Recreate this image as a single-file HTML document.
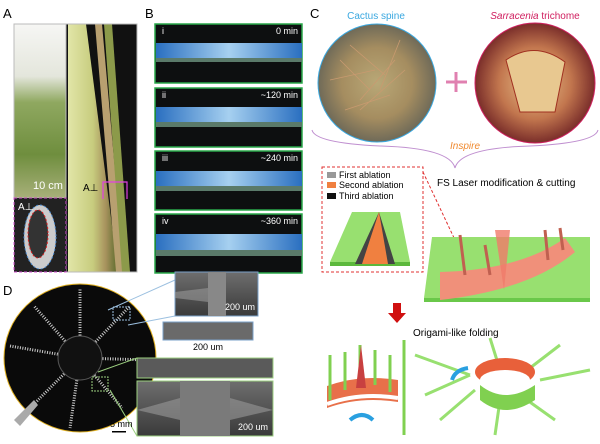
<!DOCTYPE html>
<html><head><meta charset="utf-8"><style>
body{margin:0;background:#fff;font-family:"Liberation Sans",Arial,sans-serif}
svg text{font-family:"Liberation Sans",Arial,sans-serif}
</style></head><body>
<svg width="600" height="439" viewBox="0 0 600 439" xmlns="http://www.w3.org/2000/svg">
<defs>
<linearGradient id="grass" x1="0" y1="0" x2="0" y2="1"><stop offset="0" stop-color="#f6f6f4"/><stop offset="0.3" stop-color="#e4e6dc"/><stop offset="0.45" stop-color="#8fa860"/><stop offset="0.75" stop-color="#6f8e3e"/><stop offset="1" stop-color="#a8b07a"/></linearGradient>
<linearGradient id="leaf" x1="0" y1="0" x2="1" y2="0"><stop offset="0" stop-color="#e2e6a8"/><stop offset="0.5" stop-color="#c7cc7e"/><stop offset="0.75" stop-color="#a8935e"/><stop offset="1" stop-color="#5a6a2a"/></linearGradient>
<linearGradient id="tube" x1="0" y1="0" x2="1" y2="0"><stop offset="0" stop-color="#2a6fc0"/><stop offset="0.5" stop-color="#a6d0f0"/><stop offset="1" stop-color="#2a6fc0"/></linearGradient>
<radialGradient id="cactus"><stop offset="0" stop-color="#b9a877"/><stop offset="0.6" stop-color="#a58d60"/><stop offset="1" stop-color="#6f6a58"/></radialGradient>
<radialGradient id="sarr"><stop offset="0" stop-color="#e8c48c"/><stop offset="0.6" stop-color="#c2764e"/><stop offset="1" stop-color="#7a2e2a"/></radialGradient>
<linearGradient id="sem" x1="0" y1="0" x2="0" y2="1"><stop offset="0" stop-color="#6e6e6e"/><stop offset="1" stop-color="#3a3a3a"/></linearGradient>
</defs>
<!-- A -->
<text x="3" y="18" font-size="13">A</text>
<rect x="14" y="24" width="52" height="174" fill="url(#grass)" stroke="#bbb"/>
<rect x="66" y="24" width="71" height="248" fill="#111"/>
<polygon points="68,24 68,272 118,272 86,24" fill="url(#leaf)"/>
<polygon points="95,24 102,24 124,272 116,272" fill="#b8a070"/>
<polygon points="104,24 112,24 130,272 122,272" fill="#8c9a4a"/>
<rect x="66" y="24" width="71" height="248" fill="none" stroke="#bbb"/>
<text x="33" y="189" font-size="11" fill="#fff">10 cm</text>
<rect x="14" y="198" width="52" height="74" fill="#222" stroke="#d050d0" stroke-dasharray="3,2"/>
<ellipse cx="40" cy="237" rx="16" ry="32" fill="#ccc" stroke="#4a8ad0" stroke-dasharray="2,2"/>
<ellipse cx="38" cy="234" rx="10" ry="24" fill="#333" stroke="#e02020" stroke-dasharray="2,2"/>
<text x="18" y="210" font-size="10" fill="#fff">A⊥</text>
<text x="83" y="191" font-size="10">A⊥</text>
<path d="M103,199 V182 H127 V199" fill="none" stroke="#e040e0" stroke-width="1.2"/>
<!-- B -->
<text x="145" y="18" font-size="13">B</text>
<g font-size="9" fill="#fff">
<g><rect x="155" y="24" width="147" height="59" fill="#0d0f10" stroke="#2aa84a" stroke-width="1.5"/><rect x="156" y="43" width="146" height="18" fill="url(#tube)"/><rect x="156" y="58" width="146" height="4" fill="#5a7a6a"/><text x="162" y="34">i</text><text x="298" y="34" text-anchor="end">0 min</text></g>
<g><rect x="155" y="88" width="147" height="59" fill="#0d0f10" stroke="#2aa84a" stroke-width="1.5"/><rect x="156" y="107" width="146" height="18" fill="url(#tube)"/><rect x="156" y="122" width="146" height="5" fill="#5a7a6a"/><text x="162" y="98">ii</text><text x="298" y="98" text-anchor="end">~120 min</text></g>
<g><rect x="155" y="151" width="147" height="59" fill="#0d0f10" stroke="#2aa84a" stroke-width="1.5"/><rect x="156" y="171" width="146" height="18" fill="url(#tube)"/><rect x="156" y="186" width="146" height="5" fill="#5a7a6a"/><text x="162" y="161">iii</text><text x="298" y="161" text-anchor="end">~240 min</text></g>
<g><rect x="155" y="214" width="147" height="59" fill="#0d0f10" stroke="#2aa84a" stroke-width="1.5"/><rect x="156" y="234" width="146" height="19" fill="url(#tube)"/><rect x="156" y="250" width="146" height="6" fill="#5a7a6a"/><text x="162" y="224">iv</text><text x="298" y="224" text-anchor="end">~360 min</text></g>
</g>
<!-- C -->
<text x="310" y="18" font-size="13">C</text>
<text x="376" y="19" font-size="10" fill="#3aa8e0" text-anchor="middle">Cactus spine</text>
<text x="535" y="19" font-size="10" fill="#d02060" text-anchor="middle"><tspan font-style="italic">Sarracenia</tspan> trichome</text>
<circle cx="377" cy="83" r="59" fill="url(#cactus)" stroke="#3aa8e0" stroke-width="1"/>
<g stroke="#c89a70" stroke-width="0.8">
<path d="M340,60 L370,90 M350,45 L385,75 M360,100 L395,60 M330,80 L375,70 M400,40 L380,90 M405,70 L360,110 M345,110 L390,95"/>
</g>
<circle cx="535" cy="83" r="60" fill="url(#sarr)" stroke="#d02060" stroke-width="1"/>
<path d="M506,60 Q535,40 565,62 L555,112 L520,112 Z" fill="#e8c890" stroke="#a03020"/>
<path d="M446,82 H467 M456,72 V92" stroke="#e080b0" stroke-width="3"/>
<path d="M312,130 Q315,143 380,146 Q450,148 455,168 Q460,148 530,146 Q595,143 598,130" fill="none" stroke="#c090d0" stroke-width="1"/>
<text x="465" y="149" font-size="10" fill="#f08a30" font-style="italic" text-anchor="middle">Inspire</text>
<text x="437" y="186" font-size="10">FS Laser modification &amp; cutting</text>
<rect x="322" y="167" width="101" height="105" fill="none" stroke="#e03030" stroke-dasharray="3,2"/>
<rect x="327" y="172" width="9" height="6" fill="#999"/><text x="339" y="178" font-size="9">First ablation</text>
<rect x="327" y="182" width="9" height="6" fill="#f08040"/><text x="339" y="188" font-size="9">Second ablation</text>
<rect x="327" y="193" width="9" height="6" fill="#111"/><text x="339" y="199" font-size="9">Third ablation</text>
<polygon points="330,262 352,212 400,212 410,262" fill="#98e070"/>
<rect x="330" y="262" width="80" height="4" fill="#5cb83c"/>
<polygon points="355,264 379,212 395,264" fill="#444"/>
<polygon points="362,264 379,212 388,264" fill="#f08040"/>
<line x1="423" y1="172" x2="455" y2="240" stroke="#e03030" stroke-dasharray="3,2"/>
<polygon points="432,237 590,237 590,298 424,298" fill="#98e070"/>
<rect x="424" y="298" width="166" height="4" fill="#6ac84a"/>
<path d="M440,272 Q520,270 565,238 L575,252 Q530,290 440,300 Z" fill="#f0907a"/>
<polygon points="495,230 510,230 504,290" fill="#f07a6a" opacity="0.8"/>
<path d="M460,235 L465,275 M485,245 L490,275 M545,230 L548,260 M560,228 L563,250" stroke="#c06050" stroke-width="3"/>
<polygon points="393,303 401,303 401,313 406,313 397,323 388,313 393,313" fill="#d01010"/>
<text x="413" y="336" font-size="10">Origami-like folding</text>
<!-- folded shapes -->
<path d="M327,386 L327,408 Q360,396 398,402 L398,380 Q360,374 327,386Z" fill="#e8704a"/>
<path d="M327,404 Q360,392 398,398" fill="none" stroke="#fff" stroke-width="4"/>
<path d="M330,355 V400 M345,352 V390 M360,345 V380 M375,350 V385 M390,355 V392 M404,340 V435" stroke="#80d050" stroke-width="3"/>
<polygon points="356,388 361,345 366,388" fill="#c84040"/>
<path d="M350,420 Q362,410 373,420" fill="none" stroke="#2aa0e0" stroke-width="4"/>
<g stroke="#98e070" stroke-width="3">
<path d="M470,375 L415,355 M470,375 L425,395 M500,370 L490,338 M530,368 L560,345 M540,380 L590,370 M520,395 L555,420 M500,400 L495,435 M475,390 L440,420"/>
</g>
<ellipse cx="505" cy="372" rx="30" ry="14" fill="#e8603a"/>
<ellipse cx="505" cy="380" rx="25" ry="10" fill="#fff"/>
<path d="M480,385 Q505,405 535,385 L535,400 Q505,420 480,400Z" fill="#80d050"/>
<path d="M468,368 Q455,370 452,380" fill="none" stroke="#2aa0e0" stroke-width="4"/>
<!-- D -->
<text x="3" y="295" font-size="13">D</text>
<ellipse cx="80" cy="358" rx="76" ry="74" fill="#0a0a0a" stroke="#e0b020" stroke-width="1"/>
<g stroke="#ccc" stroke-width="3" stroke-dasharray="1,1.5">
<path d="M80,358 L80,288 M80,358 L130,306 M80,358 L150,360 M80,358 L122,408 M80,358 L70,428 M80,358 L30,408 M80,358 L10,346 M80,358 L34,306"/>
</g>
<circle cx="80" cy="358" r="22" fill="#111" stroke="#555"/>
<polygon points="14,420 34,400 38,405 20,426" fill="#aaa"/>
<line x1="108" y1="310" x2="175" y2="280" stroke="#9cc0e0"/><line x1="128" y1="325" x2="175" y2="316" stroke="#9cc0e0"/>
<line x1="98" y1="372" x2="137" y2="358" stroke="#9cd080"/><line x1="110" y1="390" x2="137" y2="436" stroke="#9cd080"/>
<rect x="113" y="307" width="17" height="13" fill="none" stroke="#9cc0e0" stroke-dasharray="2,1"/>
<rect x="92" y="377" width="16" height="14" fill="none" stroke="#9cd080" stroke-dasharray="2,1"/>
<text x="110" y="427" font-size="9">5 mm</text>
<rect x="112" y="431" width="14" height="1.5" fill="#000"/>
<rect x="175" y="272" width="83" height="44" fill="url(#sem)" stroke="#7aa0c8"/>
<rect x="208" y="272" width="18" height="44" fill="#888"/>
<polygon points="175,292 208,288 208,302 175,298" fill="#999" opacity="0.6"/>
<text x="225" y="310" font-size="9" fill="#fff">200 um</text>
<rect x="163" y="322" width="90" height="18" fill="#6a6a6a" stroke="#7aa0c8"/>
<text x="208" y="350" font-size="9" text-anchor="middle">200 um</text>
<rect x="137" y="358" width="136" height="20" fill="#5a5a5a" stroke="#9cd080"/>
<rect x="137" y="381" width="136" height="55" fill="url(#sem)" stroke="#9cd080"/>
<rect x="180" y="381" width="50" height="55" fill="#7a7a7a"/>
<polygon points="137,410 180,398 180,420" fill="#999" opacity="0.6"/>
<polygon points="273,410 230,398 230,420" fill="#999" opacity="0.6"/>
<text x="238" y="430" font-size="9" fill="#fff">200 um</text>
</svg>
</body></html>
